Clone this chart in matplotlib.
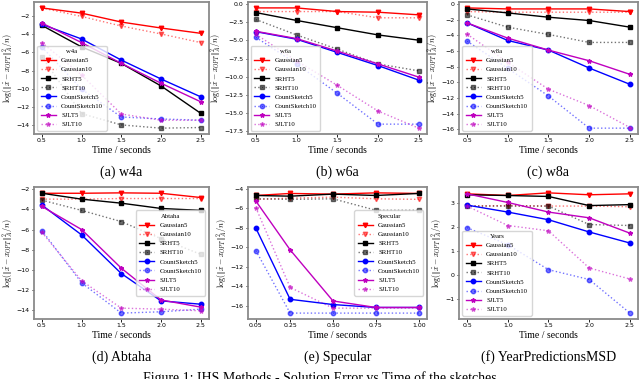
import matplotlib
matplotlib.use('Agg')
import matplotlib.pyplot as plt

plt.rcParams['mathtext.fontset'] = 'cm'

methods = ['Gaussian5', 'Gaussian10', 'SRHT5', 'SRHT10',
           'CountSketch5', 'CountSketch10', 'SJLT5', 'SJLT10']

x_time = [0.5, 1.0, 1.5, 2.0, 2.5]
x_specular = [0.05, 0.25, 0.50, 0.75, 1.00]

w4a = [
    [-1.05, -1.63, -2.62, -3.28, -3.87],
    [-1.05, -2.0, -3.06, -3.94, -4.9],
    [-2.99, -5.38, -7.21, -9.71, -12.75],
    [-6.48, -12.79, -14.04, -14.4, -14.33],
    [-2.88, -4.5, -6.84, -8.94, -10.92],
    [-5.38, -10.07, -13.16, -13.38, -13.52],
    [-2.73, -4.9, -7.21, -9.41, -11.47],
    [-4.9, -8.5, -12.83, -13.52, -13.52],
]
w6a = [
    [-0.54, -0.54, -1.04, -1.13, -1.49],
    [-1.04, -1.04, -1.04, -1.9, -1.9],
    [-1.18, -2.26, -3.26, -4.25, -4.97],
    [-2.13, -4.25, -6.2, -8.23, -9.18],
    [-3.8, -4.84, -6.65, -8.46, -10.45],
    [-4.57, -8.23, -12.26, -16.5, -16.5],
    [-3.75, -4.75, -6.47, -8.23, -10.04],
    [-4.16, -7.82, -11.17, -14.7, -17.05],
]
w8a = [
    [-0.51, -0.64, -0.64, -0.64, -0.98],
    [-0.98, -1.06, -1.06, -1.06, -1.06],
    [-0.64, -1.15, -1.70, -2.12, -2.97],
    [-1.4, -2.97, -3.9, -4.92, -4.92],
    [-2.42, -4.67, -5.9, -8.19, -10.27],
    [-4.75, -8.23, -11.76, -15.87, -15.87],
    [-2.42, -4.37, -5.9, -7.26, -9.0],
    [-3.86, -7.47, -10.9, -12.99, -15.79],
]
abtaha = [
    [-2.42, -2.42, -2.38, -2.42, -2.84],
    [-3.0, -3.0, -2.94, -2.94, -2.94],
    [-2.42, -3.0, -3.4, -3.92, -4.11],
    [-3.1, -4.11, -5.22, -6.9, -8.45],
    [-3.59, -6.53, -10.35, -13.05, -13.38],
    [-6.1, -11.26, -14.26, -14.13, -13.87],
    [-3.72, -6.0, -9.82, -12.96, -13.67],
    [-6.27, -11.06, -13.77, -13.87, -14.03],
]
specular = [
    [-4.68, -4.47, -4.54, -4.41, -4.47],
    [-5.08, -4.95, -4.85, -5.02, -5.08],
    [-4.68, -4.75, -4.54, -4.68, -4.47],
    [-5.02, -5.08, -5.02, -6.2, -6.2],
    [-8.03, -15.36, -15.9, -16.2, -16.2],
    [-10.34, -16.78, -16.78, -16.78, -16.78],
    [-5.25, -10.27, -15.53, -16.2, -16.2],
    [-5.93, -14.14, -16.27, -16.27, -16.27],
]
years = [
    [3.38, 3.31, 3.42, 3.34, 3.38],
    [2.87, 2.89, 2.87, 2.87, 2.84],
    [3.34, 3.31, 3.27, 2.89, 2.93],
    [2.87, 2.87, 2.87, 2.1, 2.06],
    [2.91, 2.62, 2.3, 1.79, 1.33],
    [1.97, 1.26, 0.22, -0.19, -1.59],
    [3.38, 3.02, 2.62, 2.38, 1.74],
    [2.87, 2.06, 1.84, 0.29, -0.17],
]

colors = ['red', 'red', 'black', 'black', 'blue', 'blue', 'm', 'm']
markers = ['v', 'v', 's', 's', 'o', 'o', '*', '*']

panels = [
    ('w4a', '(a) w4a', x_time, w4a, 'lower left'),
    ('w6a', '(b) w6a', x_time, w6a, 'lower left'),
    ('w8a', '(c) w8a', x_time, w8a, 'lower left'),
    ('Abtaha', '(d) Abtaha', x_time, abtaha, 'center right'),
    ('Specular', '(e) Specular', x_specular, specular, 'center right'),
    ('Years', '(f) YearPredictionsMSD', x_time, years, 'lower left'),
]

lefts = [0.053, 0.387, 0.717]
widths = [0.273, 0.280, 0.280]
bottoms = [0.646, 0.158]
h = 0.349
cap_y = [0.546, 0.058]

fig = plt.figure(figsize=(6.4, 3.79), dpi=100)

for i, (title, caption, xs, data, loc) in enumerate(panels):
    r, c = divmod(i, 3)
    ax = fig.add_axes([lefts[c], bottoms[r], widths[c], h])
    for j, name in enumerate(methods):
        dotted = j % 2 == 1
        ax.plot(xs, data[j], color=colors[j], marker=markers[j],
                linestyle=':' if dotted else '-',
                alpha=0.55 if dotted else 1.0,
                linewidth=1.0, markersize=3.2, label=name)
    ax.set_xticks(xs)
    if title == 'Specular':
        ax.set_xticklabels(['%.2f' % v for v in xs])
    ax.tick_params(labelsize=4.5, length=1.8, width=0.6, pad=1.2)
    for s in ax.spines.values():
        s.set_color('#8a8a8a')
        s.set_linewidth(1.3)
    ax.set_xlabel('Time / seconds', family='Liberation Serif', fontsize=7, labelpad=2)
    ax.set_ylabel(r'$\log(\|\hat{x} - x_{OPT}\|_A^2/n)$', fontsize=5.8, labelpad=0.5)
    leg = ax.legend(loc=loc, title=title, fontsize=4.8, title_fontsize=4.8,
                    prop={'family': 'Liberation Serif', 'size': 4.9},
                    handlelength=2.2, labelspacing=0.5, borderpad=0.5)
    leg.get_title().set_family('Liberation Serif')
    fig.text(lefts[c] + widths[c] / 2, cap_y[r], caption, ha='center', va='center',
             family='Liberation Serif', fontsize=10)

fig.text(0.5, 0.003, 'Figure 1: IHS Methods - Solution Error vs Time of the sketches',
         ha='center', va='center', family='Liberation Serif', fontsize=10)

plt.savefig('out.png', dpi=100)
